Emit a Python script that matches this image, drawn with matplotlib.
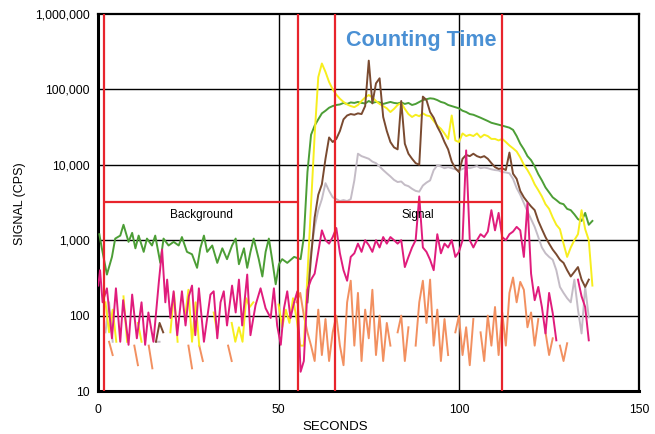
import matplotlib
matplotlib.use("Agg")
import matplotlib.pyplot as plt
import numpy as np
from matplotlib.ticker import FixedLocator, FixedFormatter

nan = np.nan

# signal (cps) vs time (s)
t_green = [0.3, 1.0, 2.4, 3.8, 4.7, 6.1, 7.0, 8.4, 9.4, 10.3, 11.2,
           12.6, 13.5, 14.9, 15.8, 17.2, 18.1, 19.5, 20.9, 22.3, 23.2,
           24.6, 26.0, 27.4, 28.3, 29.3, 30.2, 31.6, 33.0, 34.4, 35.7,
           37.1, 38.1, 39.0, 40.4, 41.3, 42.2, 43.1, 44.5, 45.5, 46.4,
           47.3, 48.2, 49.2, 50.1, 51.0, 52.4, 54.3, 56.1] + list(range(57, 138))
green = [1200, 780, 350, 600, 1050, 1150, 1600, 950, 1250, 780, 1150,
         700, 1050, 850, 1150, 500, 1050, 850, 950, 850, 1100,
         700, 650, 430, 780, 1150, 700, 850, 500, 780, 560,
         850, 1050, 480, 780, 430, 700, 1050, 560, 330, 700,
         1050, 560, 260, 480, 560, 500, 600, 560,
         1100, 8000, 25000,
         33000, 40000, 48000, 52000, 57000, 60000, 62000, 63000, 66000, 64000,
         67000, 66000, 68000, 66000, 65000, 70000, 66000, 68000, 67000, 64000,
         66000, 68000, 66000, 65000, 67000, 64000, 66000, 62000, 64000, 68000,
         72000, 74000, 76000, 75000, 72000, 68000, 66000, 62000, 60000, 58000,
         56000, 52000, 50000, 47000, 46000, 44000, 42000, 40000, 38000, 36000,
         35000, 34000, 33000, 32000, 31000, 29000, 24000, 19000, 16000, 13000,
         11500, 9500, 7500, 6200, 5000, 4300, 3700, 3400, 3100, 3000,
         2600, 2500, 2200, 1900, 1800, 2300, 1600, 1800]

t_yellow = list(range(0, 138))
yellow = [nan, nan, 150, 60, 120, 45, nan, 180, 45, nan,
          nan, 80, 45, nan, nan, nan, nan, nan, nan, nan,
          60, 200, 45, nan, 90, 220, 45, 150, 40, nan,
          nan, nan, 110, 60, nan, nan, nan, 80, 45, 70,
          45, 170, 130, 150, nan, nan, nan, nan, nan, nan,
          140, 70, 120, 80, 170, 90, 40, 40, 350, 3000,
          25000, 145000, 220000, 170000, 125000, 100000, 85000, 75000, 68000, 63000,
          60000, 58000, 62000, 70000, 78000, 84000, 78000, 70000, 64000, 60000,
          56000, 50000, 55000, 62000, 66000, 55000, 47000, 43000, 46000, 44000,
          48000, 45000, 44000, 38000, 33000, 30000, 26000, 22000, 45000, 21000,
          20000, 26000, 24000, 25000, 24000, 26000, 23000, 25000, 24000, 22000,
          22000, 21000, 22000, 20000, 18000, 16500, 15000, 12500, 10000, 8500,
          7000, 5500, 4600, 3800, 3000, 2600, 2000, 1600, 1400, 900,
          600, 800, 1000, 1200, 2500, 1400, 1000, 250]

t_brown = [16, 17, 18, 19] + list(range(58, 137))
brown = [45, 80, 60, nan,
         150, 600, 2000, 4000, 5500, 12000, 23000, 20000, 22000, 28000,
         40000, 45000, 47000, 46000, 48000, 47000, 60000, 240000, 65000, 120000,
         140000, 43000, 28000, 20000, 17000, 16000, 70000, 19000, 14000, 12000,
         10500, 10000, 80000, 72000, 50000, 42000, 32000, 26000, 20000, 16000,
         11000, 9000, 8000, 12000, 13500, 13000, 14000, 13000, 12500, 13000,
         12000, 10500, 9300, 8800, 9000, 8500, 14500, 7600, 6500, 4500,
         3700, 3200, 2800, 2500, 1800, 1400, 1100, 900, 750, 650,
         550, 500, 400, 330, 380, 440, 300, 240, 300]

t_gray = [2, 3, 4, 5, 16, 17, 18] + list(range(58, 137))
gray = [60, 150, 45, nan, 45, 45, nan,
        300, 700, 1500, 2500, 3500, 5700, 4500, 3700, 3500, 3300,
        3400, 3300, 3500, 6200, 14000, 13000, 12500, 12000, 11000, 10500,
        9500, 8500, 7700, 7000, 6300, 5900, 6000, 5400, 5200, 4800,
        4500, 4400, 5300, 5800, 6200, 8500, 9800, 9500, 9000, 9300,
        9000, 8700, 8400, 8800, 9300, 9000, 9300, 9600, 9000, 9200,
        9000, 8700, 8500, 8400, 8000, 7900, 7700, 6500, 4900, 4000,
        3100, 2400, 1900, 1500, 1100, 800, 670, 600, 550, 400,
        240, 200, 170, 150, 300, 120, 58, 240, 95]

t_magenta = [0.0, 0.5, 1.2, 2.4, 3.8, 4.9, 6.1, 6.9, 8.4, 9.4, 10.7,
             12.0, 13.0, 13.9, 15.3, 16.8, 17.7, 18.6, 19.1, 20.0, 20.9,
             21.9, 23.2, 24.2, 25.1, 26.0, 26.9, 27.9, 29.3, 30.2, 31.1,
             32.0, 33.0, 33.9, 34.8, 35.7, 37.1, 38.1, 39.0, 39.9, 41.3,
             42.2, 43.6, 45.0, 46.4, 47.8, 48.7, 49.6, 50.6, 51.5, 52.4,
             53.3, 54.3, 55.2, 56.1] + list(range(57, 137))
magenta = [250, 400, 150, 230, 50, 230, 45, 160, 41, 190, 50,
           150, 41, 110, 45, 280, 750, 150, 300, 93, 210,
           55, 210, 74, 180, 250, 55, 230, 45, 93, 190,
           210, 50, 150, 210, 74, 250, 110, 300, 74, 350,
           55, 137, 230, 125, 93, 230, 74, 41, 125, 210,
           93, 150, 210, 18,
           25, 220, 300,
           360, 700, 1350, 1000, 900, 1100, 1450, 670, 400, 290,
           600, 670, 900, 700, 1000, 860, 700, 1000, 800, 1100,
           900, 1100, 1000, 900, 1000, 440, 600, 800, 1000, 3800,
           800, 700, 550, 400, 1200, 670, 900, 800, 1000, 600,
           700, 1000, 15500, 1000, 800, 1000, 1200, 1100, 1300, 2500,
           1350, 2300, 1100, 1000, 1200, 1300, 1500, 1350, 600, 3100,
           360, 160, 240, 130, 58, 200, 108, 47, nan, nan,
           nan, nan, nan, 300, 180, 130, 47]

t_orange = list(range(0, 138))
orange = [nan, nan, nan, 45, 30, nan, nan, nan, nan, nan,
          40, 22, nan, nan, 40, 20, nan, nan, nan, nan,
          nan, nan, nan, nan, nan, 40, 20, nan, 40, 25,
          nan, nan, nan, nan, nan, nan, 40, 25, nan, nan,
          nan, nan, nan, nan, nan, nan, nan, nan, nan, nan,
          nan, nan, nan, nan, nan, 150, 200, 100, 60, 40,
          25, 120, 30, 90, 25, 60, 100, 40, 22, 150,
          290, 40, 200, 25, 120, 50, 220, 30, 100, 25,
          80, 40, nan, 60, 100, 25, 70, nan, 40, 150,
          290, 80, 300, 40, 120, 25, 90, 30, nan, 60,
          100, 30, 70, 22, 90, nan, 60, 25, 100, 40,
          130, 30, 110, 40, 200, 320, 150, 280, 220, 70,
          110, 40, 90, nan, 60, 30, 50, nan, 40, 25,
          43, nan, nan, nan, nan, nan, nan, nan]

# counting windows
red_x = [1.7, 55.5, 65.6, 112]
bg_window = (1.7, 55.5)
sig_window = (65.6, 112)
window_level = 3200

y_ticks = [10, 100, 1000, 10000, 100000, 1000000]
y_labels = ['10', '100', '1,000', '10,000', '100,000', '1,000,000']
x_ticks = [0, 50, 100, 150]

plt.rcParams['font.family'] = ['Liberation Sans', 'DejaVu Sans']

fig = plt.figure(figsize=(6.55, 4.34), dpi=100)
ax = fig.add_axes([0.150, 0.099, 0.826, 0.869])
ax.set_yscale('log')
ax.set_xlim(0, 150)
ax.set_ylim(10, 1000000)

# black grid
for x in x_ticks[1:-1]:
    ax.axvline(x, color='black', lw=1.0, zorder=1)
for y in y_ticks[1:-1]:
    ax.axhline(y, color='black', lw=1.0, zorder=1)

lw = 1.4
ax.plot(t_green, green, color='#4c9e36', lw=lw, zorder=3)
ax.plot(t_yellow, yellow, color='#f7ee1e', lw=lw, zorder=4)
ax.plot(t_gray, gray, color='#c4bcc6', lw=lw, zorder=3)
ax.plot(t_brown, brown, color='#7a4a30', lw=lw, zorder=4)
ax.plot(t_orange, orange, color='#f29060', lw=lw, zorder=3)
ax.plot(t_magenta, magenta, color='#e01c7c', lw=lw, zorder=4)

# red counting-time markers
for x in red_x:
    ax.axvline(x, color='#e8242c', lw=1.6, zorder=5)
ax.hlines(window_level, bg_window[0], bg_window[1], color='#e8242c', lw=1.6, zorder=5)
ax.hlines(window_level, sig_window[0], sig_window[1], color='#e8242c', lw=1.6, zorder=5)

ax.text(28.5, 2150, 'Background', fontsize=8.5, ha='center', va='center', zorder=6)
ax.text(88.5, 2150, 'Signal', fontsize=8.5, ha='center', va='center', zorder=6)
ax.text(68.6, 450000, 'Counting Time', fontsize=15.5, fontweight='bold',
        color='#4a90d4', ha='left', va='center', zorder=6)

ax.yaxis.set_major_locator(FixedLocator(y_ticks))
ax.yaxis.set_major_formatter(FixedFormatter(y_labels))
ax.yaxis.set_minor_locator(FixedLocator([]))
ax.set_xticks(x_ticks)
ax.tick_params(axis='both', length=0, labelsize=8.8)
ax.tick_params(axis='y', pad=6)
ax.tick_params(axis='x', pad=9)

for side, w in [('left', 2.2), ('bottom', 2.2), ('top', 1.6), ('right', 1.6)]:
    ax.spines[side].set_linewidth(w)
    ax.spines[side].set_color('black')

fig.text(0.512, 0.017, 'SECONDS', fontsize=9.5, ha='center', va='center')
fig.text(0.031, 0.53, 'SIGNAL (CPS)', fontsize=9, ha='center', va='center',
         rotation=90)

fig.savefig('out.png', dpi=100)
